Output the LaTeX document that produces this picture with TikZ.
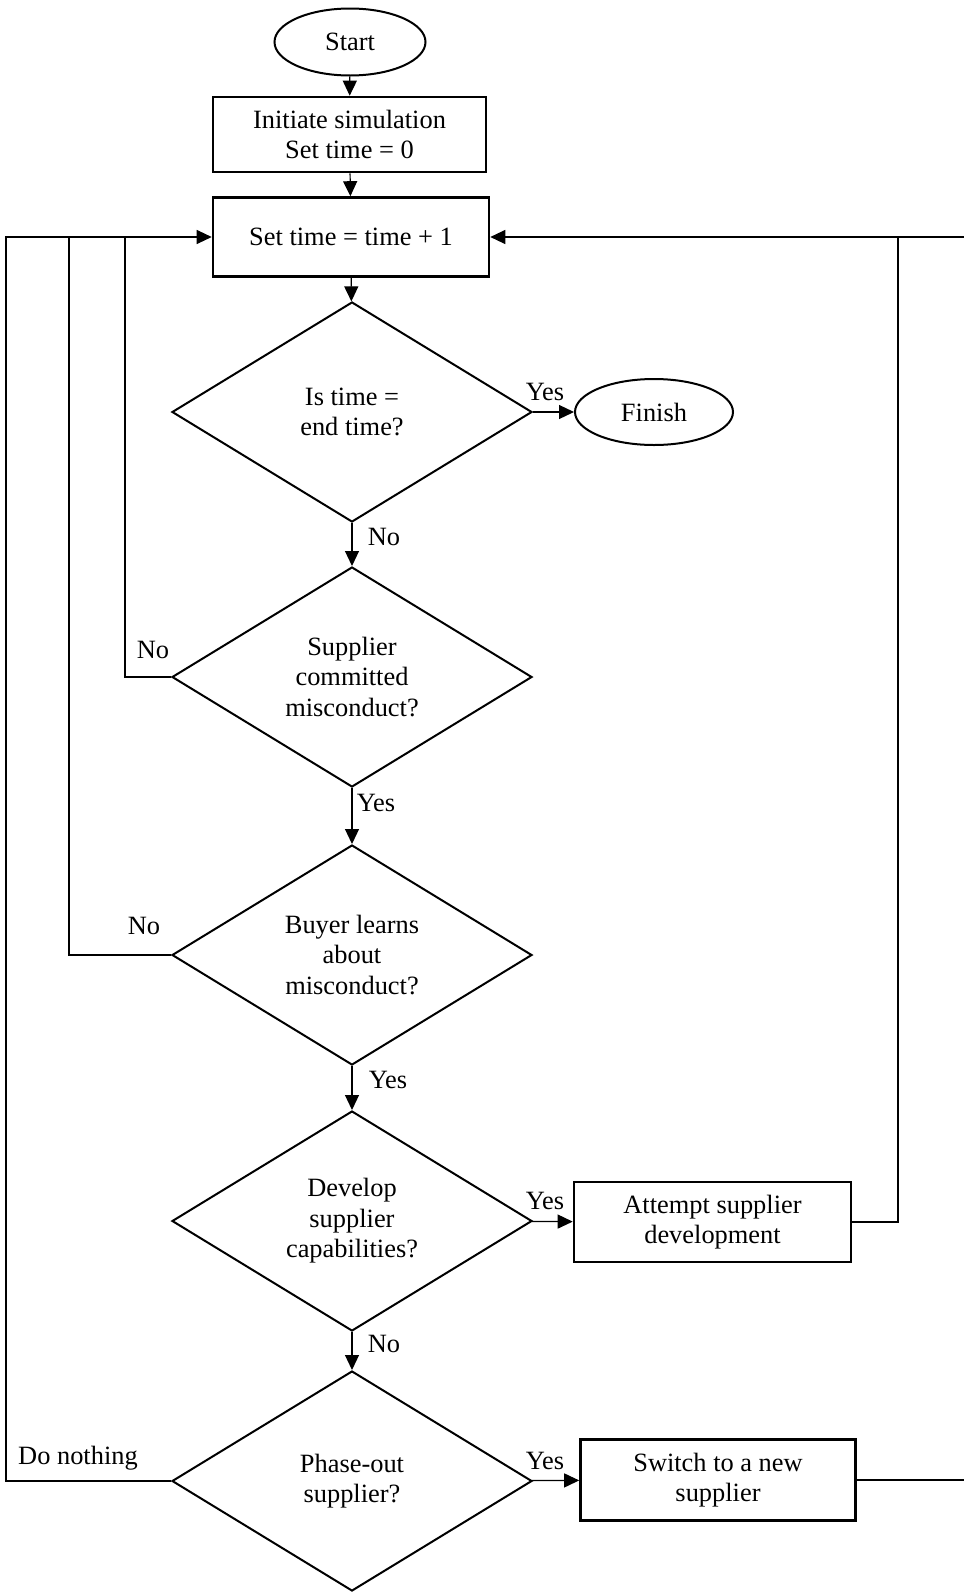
\documentclass[tikz,border=0pt]{standalone}
\usepackage{fontspec}
\setmainfont{Liberation Serif}
\usetikzlibrary{arrows.meta, shapes.geometric, positioning, calc}

\begin{document}
\begin{tikzpicture}[x=0.5pt, y=-0.5pt,
    every node/.style={font=\fontsize{13.2}{15.3}\selectfont},
    box/.style={draw, line width=1.3pt, rectangle, align=center, inner sep=0pt},
    term/.style={draw, line width=1pt, ellipse, inner sep=0pt},
    decision/.style={draw, line width=1pt, diamond, align=center, inner sep=0pt,
      minimum width=180pt, minimum height=110pt},
    line/.style={draw, line width=0.6pt},
    arrow/.style={line, -{Triangle[length=7.5pt, width=7pt]}},
    lbl/.style={inner sep=0pt}
  ]
  \useasboundingbox (0,0) rectangle (964,1596);
  % Start and initialisation
  \node[term, minimum width=75.5pt, minimum height=33.5pt] (start) at (350,42) {Start};
  \node[box, minimum width=136.5pt, minimum height=37.5pt] (init) at (349.5,134.5) {Initiate simulation\\Set time = 0};
  \node[box, minimum width=138pt, minimum height=39.5pt] (settime) at (351,237) {Set time = time + 1};
  % Decisions
  \node[decision] (endtime) at (352,412) {Is time =\\end time?};
  \node[term, minimum width=79pt, minimum height=33pt] (finish) at (654,412) {Finish};
  \node[decision] (misconduct) at (352,677) {Supplier\\committed\\misconduct?};
  \node[decision] (learns) at (352,955) {Buyer learns\\about\\misconduct?};
  \node[decision] (develop) at (352,1221) {Develop\\supplier\\capabilities?};
  \node[box, minimum width=138.5pt, minimum height=40pt] (attempt) at (712.5,1222) {Attempt supplier\\development};
  \node[decision] (phaseout) at (352,1481) {Phase-out\\supplier?};
  \node[box, minimum width=137.5pt, minimum height=40.5pt] (switch) at (718,1480) {Switch to a new\\supplier};
  % Corner points of the loops
  \coordinate (lpA) at (125,237);
  \coordinate (lpB) at (69,237);
  \coordinate (lpC) at (6,237);
  \coordinate (rpA) at (898,237);
  \coordinate (rpB) at (968,237);
  % Main flow
  \draw[arrow] (start) -- (init);
  \draw[arrow] (init) -- (settime);
  \draw[arrow] (settime) -- (endtime);
  \draw[arrow] (endtime) -- (finish);
  \draw[arrow] (endtime) -- (misconduct);
  \draw[arrow] (misconduct) -- (learns);
  \draw[arrow] (learns) -- (develop);
  \draw[arrow] (develop) -- (attempt);
  \draw[arrow] (develop) -- (phaseout);
  \draw[arrow] (phaseout) -- (switch);
  % Loops back to the time step
  \draw[line] (misconduct.west) -| (lpA);
  \draw[line] (learns.west) -| (lpB);
  \draw[arrow] (phaseout.west) -| (lpC) -- (settime.west);
  \draw[arrow] (attempt.east) -| (rpA) -- (settime.east);
  \draw[line] (switch.east) -| (rpB) -- (rpA);
  % Branch labels
  \node[lbl] (yesA) at (545,392) {Yes};
  \node[lbl] (noA) at (384,537) {No};
  \node[lbl] (noB) at (153,650) {No};
  \node[lbl] (yesB) at (376,803) {Yes};
  \node[lbl] (noC) at (144,926) {No};
  \node[lbl] (yesC) at (388,1080) {Yes};
  \node[lbl] (yesD) at (545,1201) {Yes};
  \node[lbl] (noD) at (384,1344) {No};
  \node[lbl] (nothing) at (78,1458) {Do nothing};
  \node[lbl] (yesE) at (545,1461) {Yes};
\end{tikzpicture}
\end{document}
